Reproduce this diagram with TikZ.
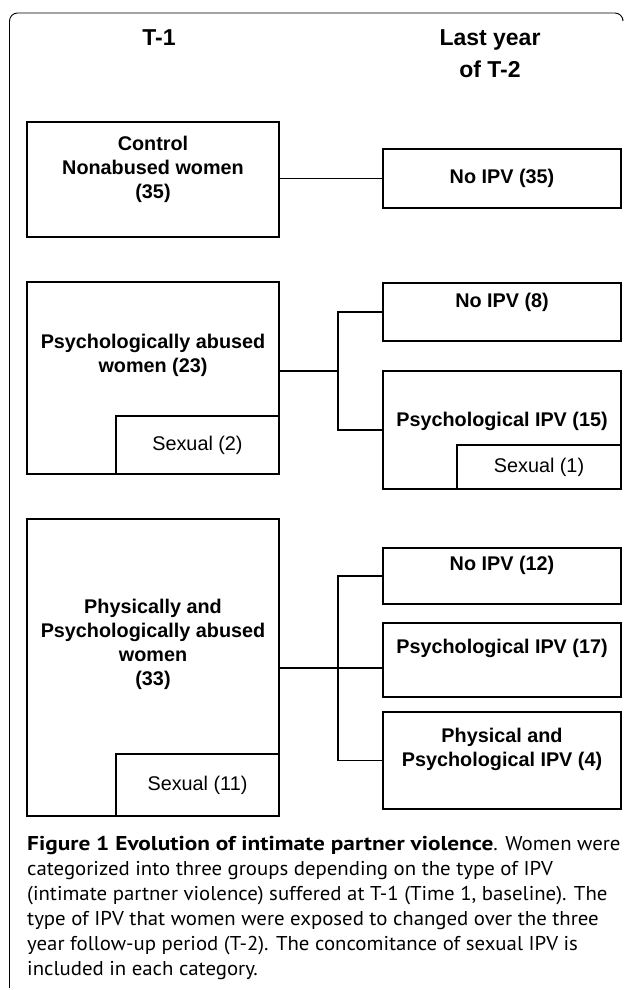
\documentclass[tikz,border=0pt]{standalone}
\usepackage{fontspec}
\setmainfont{Liberation Sans}
\newfontfamily\capfont[FakeStretch=1.04,BoldFeatures={FakeStretch=1.165}]{PT Sans}
\usetikzlibrary{positioning}

\begin{document}
\begin{tikzpicture}
[x=1pt,y=-1pt
,box/.style={draw,line width=1.6pt,inner sep=0pt}
,subbox/.style={box,fill=white,font=\fontsize{19.8}{24}\selectfont}
,lbl/.style={align=center,inner sep=0pt,font=\bfseries\fontsize{19.8}{24}\selectfont}
,head/.style={align=center,inner sep=0pt,font=\bfseries\fontsize{23}{32}\selectfont}
,link/.style={draw,line width=1.2pt}
]
\useasboundingbox (0,0) rectangle (627,990);
% frame
\draw[line width=0.9pt,rounded corners=8pt] (9.5,988) -- (9.5,13) -- (623,13) -- (623,19);
% column heads
\node[head] (h1) at (159,38) {T-1};
\node[head] (h2) at (490,54) {Last year\\of T-2};
% T-1 groups
\node[box,minimum width=252,minimum height=115] (ctrl) at (153,179.5) {};
\node[lbl] (ctrlt) at (153,169) {Control\\Nonabused women\\(35)};
\node[box,minimum width=252,minimum height=192] (psy) at (153,378) {};
\node[lbl] (psyt) at (153,355.5) {Psychologically abused\\women (23)};
\node[subbox,minimum width=163,minimum height=58] (sex2) at (197.5,445) {Sexual (2)};
\node[box,minimum width=252,minimum height=297] (phy) at (153,667.5) {};
\node[lbl] (phyt) at (153,644.5) {Physically and\\Psychologically abused\\women\\(33)};
\node[subbox,minimum width=163,minimum height=62] (sex11) at (197.5,785) {Sexual (11)};
% T-2 outcomes
\node[box,minimum width=238,minimum height=59] (no35) at (502,178.5) {};
\node[lbl] (no35t) at (502,178) {No IPV (35)};
\node[box,minimum width=238,minimum height=58] (no8) at (502,312) {};
\node[lbl] (no8t) at (502,302) {No IPV (8)};
\node[box,minimum width=238,minimum height=118] (psy15) at (502,430) {};
\node[lbl] (psy15t) at (502,421) {Psychological IPV (15)};
\node[subbox,minimum width=164,minimum height=44] (sex1) at (539,467) {Sexual (1)};
\node[box,minimum width=238,minimum height=56] (no12) at (502,576) {};
\node[lbl] (no12t) at (502,565) {No IPV (12)};
\node[box,minimum width=238,minimum height=74] (psy17) at (502,660) {};
\node[lbl] (psy17t) at (502,648) {Psychological IPV (17)};
\node[box,minimum width=238,minimum height=97] (phy4) at (502,760.5) {};
\node[lbl] (phy4t) at (502,749) {Physical and\\Psychological IPV (4)};
% links
\coordinate (j2) at (338,371);
\coordinate (j3) at (338,668);
\draw[link] (ctrl.east |- no35.west) -- (no35.west);
\draw[link] (psy.east |- j2) -- (j2);
\draw[link] (no8.west) -| (j2) |- (psy15.west);
\draw[link] (phy.east |- j3) -- (psy17.west |- j3);
\draw[link] (no12.west) -| (j3) |- (phy4.west);
% caption
\node[anchor=north west,align=left,inner sep=0pt,font=\capfont\fontsize{20}{25}\selectfont] (cap) at (27,836)
{\textbf{Figure 1 Evolution of intimate partner violence}. Women were\\
categorized into three groups depending on the type of IPV\\
(intimate partner violence) suffered at T-1 (Time 1, baseline). The\\
type of IPV that women were exposed to changed over the three\\
year follow-up period (T-2). The concomitance of sexual IPV is\\
included in each category.};
\end{tikzpicture}
\end{document}
